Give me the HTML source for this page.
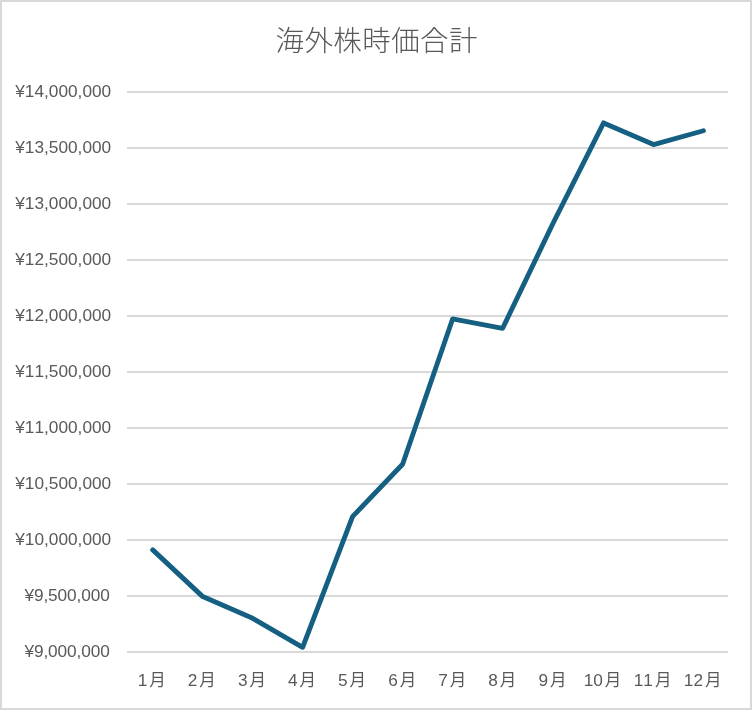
<!DOCTYPE html>
<html lang="ja">
<head>
<meta charset="utf-8">
<title>海外株時価合計</title>
<style>
html,body{margin:0;padding:0;background:#fff;}
body{width:752px;height:710px;overflow:hidden;position:relative;font-family:"Liberation Sans",sans-serif;}
.chart{position:absolute;left:0;top:0;width:752px;height:710px;box-sizing:border-box;border:2px solid #d9d9d9;background:#fff;}
svg{position:absolute;left:0;top:0;display:block;will-change:transform;}
.yl{font-family:"Liberation Sans",sans-serif;font-size:17.25px;letter-spacing:0.0px;fill:#595959;text-anchor:end;font-kerning:none;}
.xl{font-kerning:none;font-family:"Liberation Sans",sans-serif;font-size:17.25px;fill:#595959;}
.xk{font-family:"Liberation Sans","Noto Sans CJK JP",sans-serif;font-size:16.5px;fill:#595959;}
.k{fill:#595959;}
.title{font-family:"Liberation Sans","Noto Sans CJK JP",sans-serif;font-size:28.5px;font-weight:300;fill:#595959;text-anchor:middle;}

</style>
</head>
<body>
<div class="chart"></div>
<svg width="752" height="710" viewBox="0 0 752 710" role="img" aria-label="海外株時価合計">
<title>海外株時価合計</title>
<desc>海外株時価合計 — 1月から12月までの月次推移の折れ線グラフ (¥9,000,000 〜 ¥14,000,000)</desc>
<g fill="#d9d9d9">
<rect x="127" y="91" width="601" height="2"/>
<rect x="127" y="147" width="601" height="2"/>
<rect x="127" y="203" width="601" height="2"/>
<rect x="127" y="259" width="601" height="2"/>
<rect x="127" y="315" width="601" height="2"/>
<rect x="127" y="371" width="601" height="2"/>
<rect x="127" y="427" width="601" height="2"/>
<rect x="127" y="483" width="601" height="2"/>
<rect x="127" y="539" width="601" height="2"/>
<rect x="127" y="595" width="601" height="2"/>
<rect x="127" y="651" width="601" height="2"/>
</g>
<g class="k" role="heading" aria-label="海外株時価合計">
<text class="title" x="376.5" y="50.95" textLength="202" lengthAdjust="spacing">海外株時価合計</text>
</g>
<text class="yl" x="111.2" y="96.75">¥14,000,000</text>
<text class="yl" x="111.2" y="152.75">¥13,500,000</text>
<text class="yl" x="111.2" y="208.75">¥13,000,000</text>
<text class="yl" x="111.2" y="264.75">¥12,500,000</text>
<text class="yl" x="111.2" y="320.75">¥12,000,000</text>
<text class="yl" x="111.2" y="376.75">¥11,500,000</text>
<text class="yl" x="111.2" y="432.75">¥11,000,000</text>
<text class="yl" x="111.2" y="488.75">¥10,500,000</text>
<text class="yl" x="111.2" y="544.75">¥10,000,000</text>
<text class="yl" x="109.7" y="600.75" style="letter-spacing:-0.11px">¥9,500,000</text>
<text class="yl" x="109.7" y="656.75" style="letter-spacing:-0.11px">¥9,000,000</text>
<g aria-label="1月"><text class="xl" x="137.74" y="685.6">1</text><text class="xk" x="149.29" y="685.6">月</text></g>
<g aria-label="2月"><text class="xl" x="187.83" y="685.6">2</text><text class="xk" x="199.37" y="685.6">月</text></g>
<g aria-label="3月"><text class="xl" x="237.91" y="685.6">3</text><text class="xk" x="249.46" y="685.6">月</text></g>
<g aria-label="4月"><text class="xl" x="287.99" y="685.6">4</text><text class="xk" x="299.54" y="685.6">月</text></g>
<g aria-label="5月"><text class="xl" x="338.08" y="685.6">5</text><text class="xk" x="349.62" y="685.6">月</text></g>
<g aria-label="6月"><text class="xl" x="388.16" y="685.6">6</text><text class="xk" x="399.71" y="685.6">月</text></g>
<g aria-label="7月"><text class="xl" x="438.24" y="685.6">7</text><text class="xk" x="449.79" y="685.6">月</text></g>
<g aria-label="8月"><text class="xl" x="488.33" y="685.6">8</text><text class="xk" x="499.87" y="685.6">月</text></g>
<g aria-label="9月"><text class="xl" x="538.41" y="685.6">9</text><text class="xk" x="549.96" y="685.6">月</text></g>
<g aria-label="10月"><text class="xl" x="583.70" y="685.6">10</text><text class="xk" x="604.84" y="685.6">月</text></g>
<g aria-label="11月"><text class="xl" x="633.78" y="685.6">11</text><text class="xk" x="654.92" y="685.6">月</text></g>
<g aria-label="12月"><text class="xl" x="683.86" y="685.6">12</text><text class="xk" x="705.00" y="685.6">月</text></g>
<polyline points="152.75,549.85 202.71,596.60 252.67,618.30 302.63,647.30 352.54,516.60 402.60,464.20 452.61,318.95 502.67,328.30 552.93,223.50 603.64,122.90 653.55,144.55 703.41,130.75" fill="none" stroke="#156082" stroke-width="4.9" stroke-linecap="round" stroke-linejoin="round"/>
</svg>
</body>
</html>
